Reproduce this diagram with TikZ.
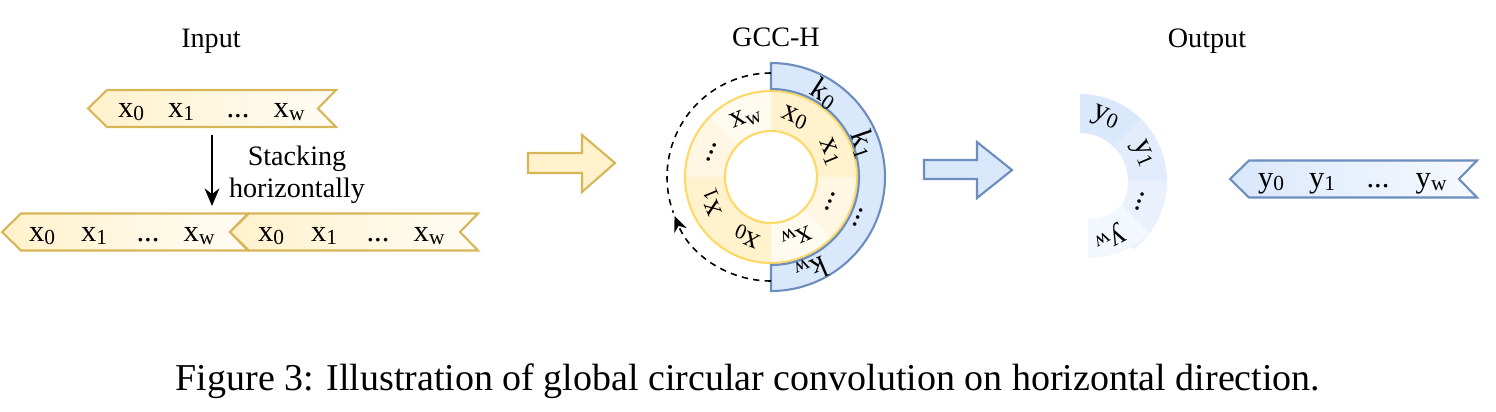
\documentclass[tikz,border=0pt]{standalone}
\usepackage{fontspec}
\setmainfont{Liberation Serif}
\usepackage{tikz}
\usetikzlibrary{arrows.meta}

\definecolor{yelfill}{HTML}{FFF2CC}
\definecolor{yelend}{HTML}{FFFCF4}
\definecolor{yelline}{HTML}{D6B656}
\definecolor{ringline}{HTML}{FFD966}
\definecolor{yellite}{HTML}{FFF7E4}
\definecolor{yelpale}{HTML}{FFFBF1}
\definecolor{blufill}{HTML}{DAE8FC}
\definecolor{bluend}{HTML}{F6F9FE}
\definecolor{bluline}{HTML}{6C8EBF}
\definecolor{blutwo}{HTML}{E2ECFC}
\definecolor{bluthree}{HTML}{EAF1FD}
\definecolor{blufour}{HTML}{F3F7FE}

\newcommand{\tdots}{...}
% tape: left tip x, right x, middle y, left colour, right colour, line colour
\newcommand{\tape}[6]{%
  \shade[draw=#6, line width=0.6pt, left color=#4, right color=#5]
    (#1,#3) -- (#1+19,#3+18.5) -- (#2,#3+18.5) -- (#2-18,#3)
    -- (#2,#3-18.5) -- (#1+19,#3-18.5) -- cycle;}

\tikzset{
  ttl/.style={font=\fontsize{8}{9.2}\selectfont},
  cell/.style={font=\fontsize{8.7}{10}\selectfont, anchor=base, inner sep=0pt},
  rlbl/.style={font=\fontsize{8.7}{10}\selectfont, inner sep=0pt},
}

\begin{document}
\begin{tikzpicture}[x=0.01cm, y=0.01cm]
\useasboundingbox (0,0) rectangle (1496,411);

\node[ttl, anchor=base] (tin) at (211,364) {Input};
\node[ttl, anchor=base] (tgcc) at (776,365) {GCC-H};
\node[ttl, anchor=base] (tout) at (1207,364) {Output};

% input and stacked tapes
\tape{88}{336}{302.5}{yelfill}{yelend}{yelline}
\tape{2}{248}{179}{yelfill}{yelend}{yelline}
\tape{230}{478}{179}{yelfill}{yelend}{yelline}

\foreach \x/\t [count=\i] in {132/x\textsubscript{0}, 182/x\textsubscript{1}, 238/\tdots, 290/x\textsubscript{w}}
  \node[cell] (a\i) at (\x,294) {\t};
\foreach \x/\t [count=\i] in {43/x\textsubscript{0}, 95/x\textsubscript{1}, 148/\tdots, 200/x\textsubscript{w},
    272/x\textsubscript{0}, 325/x\textsubscript{1}, 378/\tdots, 430/x\textsubscript{w}}
  \node[cell] (b\i) at (\x,170) {\t};

\coordinate (stackfrom) at (212,276);
\coordinate (stackto) at (212,205);
\draw[line width=0.5pt, -{Stealth[length=5pt, width=4.2pt]}] (stackfrom) -- (stackto);
\node[ttl, align=center] (stk) at (297,236) {Stacking\\horizontally};

% block arrows
\filldraw[fill=yelfill, draw=yelline, line width=0.6pt]
  (528,258) -- (582,258) -- (582,276) -- (615,248) -- (582,219) -- (582,238) -- (528,238) -- cycle;
\filldraw[fill=blufill, draw=bluline, line width=0.6pt]
  (924,251) -- (977,251) -- (977,269) -- (1012,241) -- (977,213) -- (977,232) -- (924,232) -- cycle;

% circular conv
\coordinate (cc) at (771,234);
\foreach \a/\c in {90/yelfill, 45/yelfill, 0/yellite, -45/yelpale, -90/yelfill, -135/yelfill, -180/yellite, -225/yelpale}
  \fill[\c] (cc) -- ++(\a:86) arc[start angle=\a, end angle=\a-45, radius=86] -- cycle;
\draw[ringline, line width=0.6pt] (cc) circle[radius=86];
\filldraw[fill=white, draw=ringline, line width=0.6pt] (cc) circle[radius=46];
\foreach \a/\t [count=\i] in {67.5/x\textsubscript{0}, 22.5/x\textsubscript{1}, -22.5/\tdots, -67.5/x\textsubscript{w},
    -112.5/x\textsubscript{0}, -157.5/x\textsubscript{1}, -202.5/\tdots, -247.5/x\textsubscript{w}}
  \node[rlbl, rotate=\a-90] (r\i) at ([shift={(\a:64)}]cc) {\t};

\filldraw[fill=blufill, draw=bluline, line width=0.6pt]
  (771,348) arc[start angle=90, end angle=-90, radius=114] -- (771,146)
  arc[start angle=-90, end angle=90, radius=88] -- cycle;
\foreach \a/\t/\r [count=\i] in {57/k\textsubscript{0}/99, 19/k\textsubscript{1}/98, -25/\tdots/96, -67/k\textsubscript{w}/101}
  \node[rlbl, rotate=\a-90] (k\i) at ([shift={(\a:\r)}]cc) {\t};

\coordinate (rbot) at (771,130);
\coordinate (rtop) at (771,338);
\draw[dashed, dash pattern=on 1.8pt off 1.5pt, line width=0.45pt, -{Stealth[length=4.5pt, width=3.8pt]}]
  (rbot) arc[start angle=270, end angle=202, radius=104];
\draw[dashed, dash pattern=on 1.8pt off 1.5pt, line width=0.45pt]
  (rtop) arc[start angle=90, end angle=200, radius=104];

% output half ring
\coordinate (oc) at (1080,230);
\coordinate (ocw) at (1088,240);
\foreach \a/\b/\c/\o in {90/45/blufill/oc, 45/0/blutwo/oc, 0/-52/bluthree/oc, -45/-90/blufour/ocw}
  \fill[\c] ([shift={(\a:87)}]\o) arc[start angle=\a, end angle=\b, radius=87]
    -- ([shift={(\b:48)}]\o) arc[start angle=\b, end angle=\a, radius=48] -- cycle;
\foreach \a/\t/\r [count=\i] in {67.5/y\textsubscript{0}/68, 23/y\textsubscript{1}/68, -19/\tdots/63, -63/y\textsubscript{w}/64}
  \node[rlbl, rotate=\a-90] (o\i) at ([shift={(\a:\r)}]oc) {\t};

% output tape
\tape{1230}{1477}{232}{blufill}{bluend}{bluline}
\foreach \x/\t [count=\i] in {1272/y\textsubscript{0}, 1323/y\textsubscript{1}, 1378/\tdots, 1432/y\textsubscript{w}}
  \node[cell] (c\i) at (\x,224) {\t};

\node[font=\fontsize{10.8}{12}\selectfont, anchor=base] (cap) at (748,21)
  {Figure 3: Illustration of global circular convolution on horizontal direction.};
\end{tikzpicture}
\end{document}
